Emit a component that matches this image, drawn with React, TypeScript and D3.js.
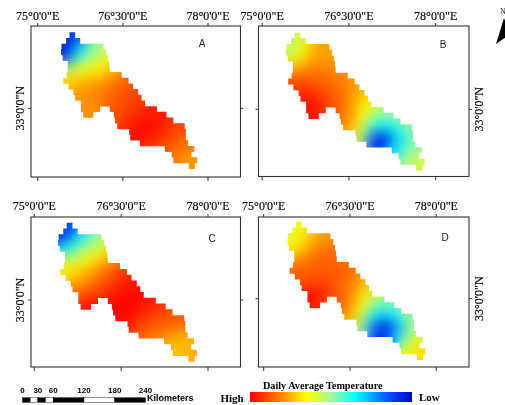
import React, { useEffect, useRef } from "react";
import * as d3 from "d3";

const _ = null;

const lonTicks = [75, 76.5, 78];
const lonLabels = ["75°0'0\"E", "76°30'0\"E", "78°0'0\"E"];
const latLabel = "33°0'0\"N";

// legend position of each colour, 0 is High (red), 100 is Low (dark blue)
const legendStops = [0, 20, 35, 50, 65, 85, 100];
const legendColors = ["#ff0000", "#ff8c00", "#ffff00", "#a8f59a", "#00ffff", "#0a50ff", "#0000c8"];

// basin footprint, one entry per 0.1 degree row going south, lon pairs
const basinTop = 34.338;
const basinRows = [
  [75.56, 75.66],
  [75.5, 75.75],
  [75.42, 76.16],
  [75.41, 76.21],
  [75.44, 76.24],
  [75.53, 76.26],
  [75.53, 76.27],
  [75.51, 76.48],
  [75.45, 76.6],
  [75.54, 76.68],
  [75.63, 76.77],
  [75.66, 76.83],
  [75.76, 76.89],
  [75.76, 76.1, 76.27, 77.1],
  [75.8, 75.98, 76.34, 77.27],
  [76.36, 77.39],
  [76.4, 77.59],
  [76.61, 77.61],
  [76.63, 77.61],
  [76.8, 77.65],
  [77.24, 77.76],
  [77.36, 77.71],
  [77.39, 77.81],
  [77.66, 77.77]
];

// temperature read per 0.2 degree block, same 0-100 position as the legend
const gridLon = 75.4;
const gridLat = 34.4;
const gridStep = 0.2;

const valuesA = [
  [92, 88],
  [98, 75, 58, 48],
  [90, 60, 52, 42, 40],
  [48, 42, 36, 33, 28],
  [30, 28, 26, 23, 20, 15],
  [_, 22, 20, 18, 15, 12, 10],
  [_, 22, 20, 18, 13, 11, 9],
  [_, _, 22, 20, 12, 9, 7, 5, 4],
  [_, _, _, _, 12, 8, 3, 0, 3, 6, 10],
  [_, _, _, _, _, 6, 1, 3, 5, 9, 13],
  [_, _, _, _, _, _, _, 7, 10, 13, 16, 19],
  [_, _, _, _, _, _, _, _, _, 17, 20, 22]
];
const valuesB = [
  [45, 43],
  [46, 36, 25, 22],
  [42, 32, 22, 22, 24],
  [25, 20, 18, 18, 20, 20],
  [10, 12, 13, 15, 17, 20, 25],
  [8, 6, 8, 12, 15, 19, 26, 30],
  [_, 3, 2, 8, 13, 20, 30, 36],
  [_, 3, 2, 10, 14, 20, 33, 48, 52, 50],
  [_, _, _, _, _, 22, 38, 60, 65, 62, 52, 50],
  [_, _, _, _, _, _, 45, 85, 97, 72, 60, 50],
  [_, _, _, _, _, _, _, _, _, 68, 55, 50],
  [_, _, _, _, _, _, _, _, _, _, 48, 42]
];
const valuesC = [
  [90, 85],
  [95, 70, 60, 52],
  [68, 58, 48, 42, 38],
  [46, 42, 36, 30, 22],
  [33, 30, 26, 20, 14, 10],
  [_, 24, 20, 14, 10, 5, 3],
  [_, 14, 10, 8, 5, 2, 1],
  [_, _, 2, 3, 1, 0, 1, 3, 6],
  [_, _, _, _, 1, 0, 3, 8, 10, 12, 12],
  [_, _, _, _, _, 6, 8, 12, 14, 16, 18],
  [_, _, _, _, _, _, _, 18, 20, 24, 26, 26],
  [_, _, _, _, _, _, _, _, _, 26, 28, 24]
];
const valuesD = [
  [38, 36],
  [40, 32, 24, 22],
  [36, 28, 20, 17, 18],
  [24, 18, 14, 14, 15, 17],
  [14, 14, 14, 13, 13, 15, 20],
  [_, 12, 10, 11, 13, 17, 22, 30],
  [_, 4, 2, 8, 13, 19, 30, 42],
  [_, _, 4, 10, 14, 20, 34, 50, 55, 52],
  [_, _, _, _, _, 24, 42, 66, 72, 64, 50],
  [_, _, _, _, _, _, 50, 82, 97, 78, 56, 45],
  [_, _, _, _, _, _, _, _, 90, 68, 50, 38],
  [_, _, _, _, _, _, _, _, _, _, 36, 30]
];

const panels = [
  { id: "A", values: valuesA, frame: [31, 26, 240.5, 177], lon: [37.7, 208], lat33: 108.3, ppd: 56.8, mark: [202, 43], side: "left", labelY: 16 },
  { id: "B", values: valuesB, frame: [258.5, 26, 469, 176.5], lon: [262.2, 435.7], lat33: 109.3, ppd: 57.3, mark: [443, 44], side: "right", labelY: 16 },
  { id: "C", values: valuesC, frame: [31, 217, 240.5, 367], lon: [34.3, 208], lat33: 300, ppd: 57.8, mark: [212, 238], side: "left", labelY: 206 },
  { id: "D", values: valuesD, frame: [258.5, 217, 469, 367], lon: [263.7, 436.3], lat33: 298.7, ppd: 57.5, mark: [445, 237], side: "right", labelY: 206 }
];

const scaleKm = [0, 30, 60, 120, 180, 240];
const scaleSegments = [
  [0, 15, "#000"],
  [15, 30, "#fff"],
  [30, 45, "#000"],
  [45, 60, "#fff"],
  [60, 120, "#000"],
  [120, 180, "#fff"],
  [180, 240, "#000"]
];

const serif = "'Liberation Serif', serif";
const sans = "'Liberation Sans', sans-serif";

const drawPanel = (root, defs, p, color) => {
  const [x0, y0, x1, y1] = p.frame;
  const x = d3.scaleLinear().domain([lonTicks[0], lonTicks[2]]).range(p.lon);
  const y = d3.scaleLinear().domain([33, 32]).range([p.lat33, p.lat33 + p.ppd]);

  const clip = defs.append("clipPath").attr("id", "basin" + p.id);
  basinRows.forEach((row, i) => {
    for (let k = 0; k < row.length; k += 2) {
      clip
        .append("rect")
        .attr("x", x(row[k]))
        .attr("width", x(row[k + 1]) - x(row[k]))
        .attr("y", y(basinTop - i * 0.1))
        .attr("height", y(basinTop - (i + 1) * 0.1) - y(basinTop - i * 0.1) + 0.3);
    }
  });

  const cells = root
    .append("g")
    .attr("clip-path", "url(#basin" + p.id + ")")
    .append("g")
    .attr("filter", "url(#spread)");
  p.values.forEach((row, r) => {
    row.forEach((v, c) => {
      if (v === null) return;
      const lon = gridLon + c * gridStep;
      const lat = gridLat - r * gridStep;
      cells
        .append("rect")
        .attr("x", x(lon))
        .attr("y", y(lat))
        .attr("width", x(lon + gridStep) - x(lon) + 0.5)
        .attr("height", y(lat - gridStep) - y(lat) + 0.5)
        .attr("fill", color(v));
    });
  });

  root
    .append("rect")
    .attr("x", x0)
    .attr("y", y0)
    .attr("width", x1 - x0)
    .attr("height", y1 - y0)
    .attr("fill", "none")
    .attr("stroke", "#333")
    .attr("stroke-width", 1.1);

  const tickLine = (ax, ay, bx, by) =>
    root
      .append("line")
      .attr("x1", ax)
      .attr("y1", ay)
      .attr("x2", bx)
      .attr("y2", by)
      .attr("stroke", "#333");

  lonTicks.forEach((t, i) => {
    tickLine(x(t), y0 - 3, x(t), y0);
    tickLine(x(t), y1, x(t), y1 + 4);
    root
      .append("text")
      .attr("x", x(t))
      .attr("y", p.labelY)
      .attr("dy", "0.35em")
      .attr("text-anchor", "middle")
      .attr("font-family", serif)
      .attr("font-size", 12)
      .attr("fill", "#000")
      .attr("stroke", "#000")
      .attr("stroke-width", 0.15)
      .text(lonLabels[i]);
  });

  const ty = y(33);
  tickLine(x0 - 3, ty, x0, ty);
  tickLine(x1, ty, x1 + 3, ty);
  const labelX = p.side === "left" ? 20 : 479;
  root
    .append("text")
    .attr("transform", "translate(" + labelX + "," + ty + ") rotate(-90)")
    .attr("dy", "0.35em")
    .attr("text-anchor", "middle")
    .attr("font-family", serif)
    .attr("font-size", 12)
    .attr("fill", "#000")
    .attr("stroke", "#000")
    .attr("stroke-width", 0.15)
    .text(latLabel);

  root
    .append("text")
    .attr("x", p.mark[0])
    .attr("y", p.mark[1])
    .attr("dy", "0.35em")
    .attr("text-anchor", "middle")
    .attr("font-family", sans)
    .attr("font-size", 10)
    .attr("fill", "#222")
    .text(p.id);
};

const draw = svgNode => {
  const svg = d3.select(svgNode);
  svg.selectAll("*").remove();
  const defs = svg.append("defs");

  // spreads the blocks into a smooth surface, alpha pushed back to solid
  const spread = defs
    .append("filter")
    .attr("id", "spread")
    .attr("filterUnits", "userSpaceOnUse")
    .attr("x", 0)
    .attr("y", 0)
    .attr("width", 505)
    .attr("height", 405)
    .attr("color-interpolation-filters", "sRGB");
  spread.append("feGaussianBlur").attr("stdDeviation", 6.5);
  spread
    .append("feComponentTransfer")
    .append("feFuncA")
    .attr("type", "linear")
    .attr("slope", 80);

  defs
    .append("filter")
    .attr("id", "soft")
    .attr("filterUnits", "userSpaceOnUse")
    .attr("x", 0)
    .attr("y", 0)
    .attr("width", 505)
    .attr("height", 405)
    .attr("color-interpolation-filters", "sRGB")
    .append("feGaussianBlur")
    .attr("stdDeviation", 0.45);

  const color = d3.scaleLinear().domain(legendStops).range(legendColors);
  const root = svg.append("g").attr("filter", "url(#soft)");
  root.append("rect").attr("width", 505).attr("height", 405).attr("fill", "#fff");

  panels.forEach(p => drawPanel(root, defs, p, color));

  // north arrow, cut by the page edge
  root
    .append("text")
    .attr("x", 500)
    .attr("y", 14)
    .attr("font-family", serif)
    .attr("font-size", 8)
    .attr("fill", "#222")
    .text("N");
  root.append("path").attr("d", "M504,18 L496,44 L504.5,38 L513,44 Z").attr("fill", "#000");

  // scale bar
  const km = d3.scaleLinear().domain([0, 240]).range([22.5, 145.5]);
  scaleSegments.forEach(([a, b, fill]) => {
    root
      .append("rect")
      .attr("x", km(a))
      .attr("y", 397.7)
      .attr("width", km(b) - km(a))
      .attr("height", 4.6)
      .attr("fill", fill)
      .attr("stroke", "#000")
      .attr("stroke-width", 0.4);
  });
  scaleKm.forEach(v => {
    root
      .append("text")
      .attr("x", km(v))
      .attr("y", 390)
      .attr("dy", "0.35em")
      .attr("text-anchor", "middle")
      .attr("font-family", sans)
      .attr("font-weight", "bold")
      .attr("font-size", 8)
      .attr("fill", "#000")
      .text(v);
  });
  root
    .append("text")
    .attr("x", 147)
    .attr("y", 398)
    .attr("dy", "0.35em")
    .attr("font-family", sans)
    .attr("font-weight", "bold")
    .attr("font-size", 9)
    .attr("fill", "#000")
    .text("Kilometers");

  // colour legend
  const gradient = defs.append("linearGradient").attr("id", "legendRamp");
  legendStops.forEach((s, i) => {
    gradient
      .append("stop")
      .attr("offset", s + "%")
      .attr("stop-color", legendColors[i]);
  });
  root
    .append("rect")
    .attr("x", 250)
    .attr("y", 392)
    .attr("width", 162)
    .attr("height", 10)
    .attr("fill", "url(#legendRamp)");

  const legendText = (tx, ty, text, size) =>
    root
      .append("text")
      .attr("x", tx)
      .attr("y", ty)
      .attr("dy", "0.35em")
      .attr("font-family", serif)
      .attr("font-weight", "bold")
      .attr("font-size", size)
      .attr("fill", "#000")
      .text(text);
  legendText(263, 385.5, "Daily Average Temperature", 10.2);
  legendText(220.5, 398, "High", 11);
  legendText(419, 397, "Low", 11);
};

export default function App() {
  const ref = useRef(null);
  useEffect(() => {
    draw(ref.current);
  }, []);
  return (
    <svg
      ref={ref}
      width={505}
      height={405}
      style={{ position: "absolute", top: 0, left: 0, display: "block" }}
    />
  );
}
